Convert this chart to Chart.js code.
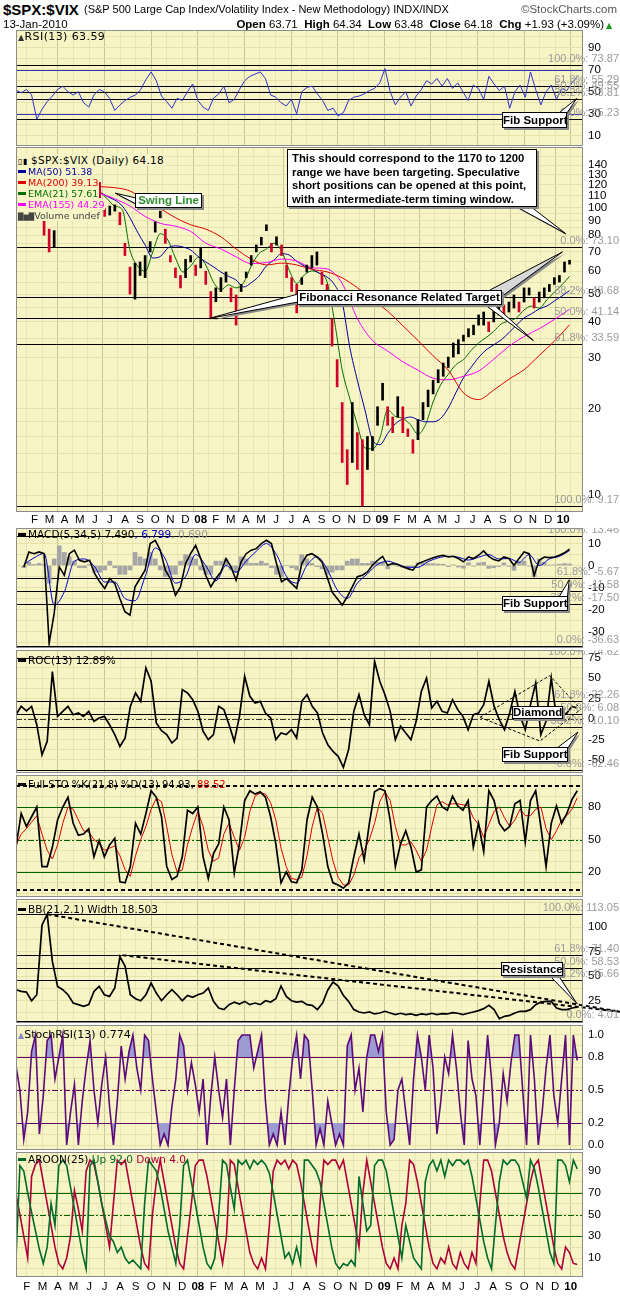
<!DOCTYPE html>
<html>
<head>
<meta charset="utf-8">
<script src="https://cdn.jsdelivr.net/npm/chart.js@4.4.1/dist/chart.umd.min.js"></script>
<style>
  body { margin:0; width:620px; height:1297px; background:#fff; position:relative; overflow:hidden; font-family:"Liberation Sans", Arial, sans-serif; }
  canvas { position:absolute; left:0; z-index:1; }
  .t { position:absolute; white-space:nowrap; color:#000; z-index:2; }
  .lg { position:absolute; white-space:nowrap; font:10.5px "DejaVu Sans", Verdana, sans-serif; line-height:11px; z-index:2; }
  .mrow { font-size:9.5px; }
  .row { background:#f7f5c6; padding-right:1px; }
  .sw { display:inline-block; width:8px; height:3px; vertical-align:middle; margin:0 2px 2px 0; }
  .box { position:absolute; z-index:3; background:#fff; border:1px solid #000; box-shadow:2px 2px 0 #8a8a8a; font:bold 11.5px "Liberation Sans", Arial, sans-serif; white-space:nowrap; text-align:center; box-sizing:border-box; }
</style>
</head>
<body>

<div class="t" style="left:3px;top:1px;font:bold 15px 'Liberation Sans'">$SPX:$VIX</div>
<div class="t" style="left:84px;top:3px;font:11px 'Liberation Sans'">(S&amp;P 500 Large Cap Index/Volatility Index - New Methodology) INDX/INDX</div>
<div class="t" style="right:3px;top:3px;font:11.5px 'Liberation Sans';color:#555">&copy;StockCharts.com</div>
<div class="t" style="left:3px;top:18px;font:11.5px 'Liberation Sans'">13-Jan-2010</div>
<div class="t" style="right:16px;top:18px;font:11.5px 'Liberation Sans'"><b>Open</b> 63.71 &nbsp;<b>High</b> 64.34 &nbsp;<b>Low</b> 63.48 &nbsp;<b>Close</b> 64.18 &nbsp;<b>Chg</b> +1.93 (+3.09%)</div>
<div class="t" style="left:606px;top:21px;font:8px 'DejaVu Sans';color:#1a9a1a">&#9650;</div>

<!-- panel legends -->
<div class="lg" style="left:18px;top:31px;font-size:11px;letter-spacing:0.4px"><span style="font-size:8px;color:#333">&#9650;</span>RSI(13) 63.59</div>

<div class="lg" style="left:18px;top:155px;letter-spacing:0.3px"><span class="row"><span style="font-size:8px">&#9647;&#9646;</span> $SPX:$VIX (Daily) 64.18</span></div>
<div class="lg mrow" style="left:18px;top:166px;color:#0000a0"><span class="row"><span class="sw" style="background:#0000a0"></span>MA(50) 51.38</span></div>
<div class="lg mrow" style="left:18px;top:177px;color:#e00000"><span class="row"><span class="sw" style="background:#e00000"></span>MA(200) 39.13</span></div>
<div class="lg mrow" style="left:18px;top:188px;color:#006e00"><span class="row"><span class="sw" style="background:#006e00"></span>EMA(21) 57.61</span></div>
<div class="lg mrow" style="left:18px;top:199px;color:#ff00ff"><span class="row"><span class="sw" style="background:#ff00ff"></span>EMA(155) 44.29</span></div>
<div class="lg mrow" style="left:18px;top:210px;color:#444"><span class="row"><span style="font-size:7px">&#9608;&#9606;&#9608;</span>Volume undef</span></div>

<div class="lg" style="left:18px;top:529px"><span class="sw" style="background:#000"></span>MACD(5,34,5) 7.490<span style="color:#0000cc">, 6.799</span><span style="color:#999">, 0.690</span></div>
<div class="lg" style="left:18px;top:655px"><span class="sw" style="background:#000"></span>ROC(13) 12.89%</div>
<div class="lg" style="left:18px;top:779px;font-size:10px"><span class="sw" style="background:#000"></span>Full STO %K(21,8) %D(13) 94.93, <span style="color:#e00000">88.52</span></div>
<div class="lg" style="left:18px;top:904px"><span class="sw" style="background:#000"></span>BB(21,2.1) Width 18.503</div>
<div class="lg" style="left:18px;top:1029px;font-size:11px"><span style="font-size:8px;color:#8888cc">&#9650;</span>StochRSI(13) 0.774</div>
<div class="lg" style="left:18px;top:1154px"><span class="sw" style="background:#006b2b"></span>AROON(25) <span style="color:#006b2b">Up 92.0</span> <span style="color:#b0003a">Down 4.0</span></div>

<!-- callouts -->
<div class="box" style="left:502px;top:112px;width:65px;height:16px;line-height:14px">Fib Support</div>
<div class="box" style="left:135px;top:193px;width:67px;height:15px;line-height:13px;color:#2e8b2e">Swing Line</div>
<div class="box" style="left:287px;top:149px;width:250px;height:58px;line-height:13.5px;text-align:left;padding:2px 0 0 4px;font-size:11.3px">This should correspond to the 1170 to 1200<br>range we have been targeting. Speculative<br>short positions can be opened at this point,<br>with an intermediate-term timing window.</div>
<div class="box" style="left:297px;top:290px;width:205px;height:15px;line-height:13px">Fibonacci Resonance Related Target</div>
<div class="box" style="left:502px;top:596px;width:66px;height:15px;line-height:13px">Fib Support</div>
<div class="box" style="left:512px;top:706px;width:51px;height:13px;line-height:11px">Diamond</div>
<div class="box" style="left:502px;top:747px;width:66px;height:15px;line-height:13px">Fib Support</div>
<div class="box" style="left:501px;top:962px;width:62px;height:14px;line-height:12px">Resistance</div>

<script>
// ---- time axis (months since Jan 2007) ----
const START = 0.30, END = 36.42;
const X_MIN = 0.30, X_MAX = 36.79;
const monthLabels = ['J','F','M','A','M','J','J','A','S','O','N','D',
  '08','F','M','A','M','J','J','A','S','O','N','D',
  '09','F','M','A','M','J','J','A','S','O','N','D','10'];
const monthTicks = monthLabels.map((_, i) => i).filter(i => i > 0);

// ---- RSI(13) ----
const rsiVals = [51.5,49,52,47,25,34,41,46,52,55,
  50,47,50,40,36,47,52,50,44,33,
  38,42,45,47,52,61,68,60,46,41,
  35,44,42,50,57,42,36,33,44,48,
  55,40,43,52,60,64,66,68,62,47,
  45,40,37,43,30,50,54,55,48,42,
  33,35,28,31,42,45,46,48,51,53,
  58,71,50,38,45,50,37,46,52,60,
  57,62,55,62,53,58,50,42,56,53,
  43,64,57,51,55,35,50,56,45,68,
  52,38,50,56,43,53,51,58,63.6];
const rsiFib = [73.87,55.29,49.55,43.81,25.23];
const fibPct = ['100.0%','61.8%','50.0%','38.2%','0.0%'];

// ---- $SPX:$VIX price bars (low / high) ----
const priceLow = [112,115,113,100,80,70,73,100,105,110,
  114,117,118,116,110,108,93,94,97,87,
  68,50,48,58,57,70,82,92,75,64.6,
  57,52.5,57,64.6,58,61.6,54,41,47,51,
  55,47,39,51,57,63,70,74,83,70,
  74,68,57,51,43,54,59.6,61.6,63,54,
  47,33,23.8,13,10.9,13,12.3,9.17,12.3,14.3,
  17.5,21.4,17.5,16.5,18.7,16.5,16,14,15.6,18.3,
  20.3,22.5,24.6,25.9,27.8,30.2,31,34.3,35.5,36.1,
  39,39,37,40,42.3,41.3,43.3,44.7,43.3,46.9,
  49.6,44.7,46.9,48.5,51,54,55,59.6,63.5];
const priceHigh = [125,128,126,118,90,84,83,112,118,122,
  126,130,132,128,124,122,99,101,102,96,
  75,62,64,64.6,68,76,89,97,84,68,
  61.6,58,66,68,63,72,60,51,52.5,57,
  59.6,52.5,49.6,54,59.6,68,74,78.7,87,75,
  79,74,63,57,54,57,63,68,70,59.6,
  54,41,29.6,21,14.4,21,16.5,15.6,16,16,
  20.3,24.5,20.3,18.7,22,20.3,17,15.6,18.3,21,
  23.2,25.1,27.3,28.8,30.2,33.8,34.7,36,37.9,39,
  42.3,43.3,40,44.7,45.8,45.8,46.9,49.6,46.9,52.5,
  52.5,48.5,50.8,52.5,54,57,58,64.6,65.5];
const ma50 = [128,130,131,129,124,119,116,114,114,115,113,
  109,106,101,92,82,74,66.7,67.5,72.2,73.5,
  72.8,71.1,67.5,64.6,62.2,59.6,57.6,55.9,52.9,54.7,
  57.6,62.6,65.6,69,68.3,65,62.6,61.1,59,57.3,
  53.8,46.9,32.7,25.1,19.8,15.6,15,16.4,17.7,18.4,
  18.7,18.3,18,18,18.5,20.1,22.7,25.6,27.8,30.1,
  32,33.3,34.7,36.7,39,41.3,42.7,44.4,45.4,47.3,49.2,51.4];
const ma200 = [120,121,121,120,119,118,117,114,106,99,92,87,84,79,71.7,66.1,63.1,64,63.1,
  60.9,59.7,56.9,52.6,47.9,43.6,38.8,34.5,30.5,27.2,22.7,21.5,23.2,25.3,27.3,30.6,34.3,39.1];
const ema21 = [125,128,130,118,100,104,114,120,121,117,113,
  107,101,98,71,62.5,60,70,81,77,66.7,
  59.6,62.5,67,63.1,55.1,51.7,53.8,52.5,54.7,62.5,
  69,71.7,75.1,70.6,60.6,54.4,58.2,60.1,59,55.1,
  40,27.3,21.7,17.6,14.6,14.5,15.9,19.8,18.8,18.5,
  17.6,16.3,17.6,21.1,24.2,26.3,28.4,29.6,31.8,33.8,
  35.3,37.1,39.4,40.3,41.3,44,45.4,44.7,47.7,50.8,53.8,57.6];
const ema155 = [124,122,120,118,115,112,107,101,93,88,86,82.5,75.1,71.7,67.3,63.8,64.3,66.1,65.1,
  61.7,61.1,54.4,41.1,34.5,31.7,29.1,27.2,25.5,25.2,25.9,27,29.7,32.9,35.6,37.9,40.8,44.3];
const priceFib = [73.10,48.68,41.14,33.59,9.17];
const priceFibPct = ['0.0%','38.2%','50.0%','61.8%','100.0%'];

// ---- MACD(5,34,5) ----
const macdLine = [-0.6,6.2,5.4,6.2,5.4,-35.4,-21.8,-0.6,-4.4,5.4,
  7.0,2.4,1.7,2.4,-3.6,-7.4,-10.4,-5.9,-8.2,-15.0,
  -21.0,-22.6,-9.7,-5.9,-2.1,10.0,11.5,7.0,-2.1,-5.9,
  -13.5,-9.7,0.9,5.4,9.2,3.2,-4.4,-9.7,-5.9,-2.9,
  3.2,-0.6,-6.7,1.7,5.4,7.0,7.7,10.0,11.5,10.0,
  0.9,-7.4,-5.9,-8.2,-10.4,0.9,4.7,5.4,3.9,1.7,
  -5.1,-12.0,-15.0,-18.0,-14.2,-9.7,-5.1,-4.4,-2.9,0.1,
  2.4,4.2,0.1,0.9,0.5,-0.6,-1.4,-2.1,0.9,1.7,
  2.7,3.6,4.2,4.7,3.9,4.2,3.2,1.7,3.9,3.2,
  4.7,6.7,4.2,2.7,2.1,3.9,3.2,0.1,3.2,6.2,
  5.4,-4.4,2.4,3.9,3.6,3.9,4.7,5.8,7.5];
const macdSignal = [0.5,3.5,5.5,-18,-12,2,3,-0.5,-7.5,-7.5,-15,-16,-5,8,3,-8,-5,5,0,-7,
  0,-3,2,6.5,10,5,-5,-8,0,4,-1.5,-11,-15,-8,-3.8,0.5,2,0.6,-0.8,-0.8,
  1.8,3.5,4.2,3.8,2.5,3.8,5,3,3.2,1.5,5,0,3,4.2,6.8];
const macdHist = [-1,1.5,0.5,1,0.5,-8,3,9,6,4,
  2,-1,-1,0.5,-3,-3,-2,2,-1,-4,
  -4,-2,6,4,3,6,3,-2,-5,-4,
  -4,2,5,4,3,-2,-4,-4,2,2,
  3,-2,-3,4,3,1,1,2,1,-1,
  -4,-5,0,-1,-2,5,3,1,-0.5,-1.5,
  -4,-3,-2,-2,2,3,3,1,1,2,
  1.5,1.5,-1.5,0.5,-0.3,-0.8,-0.6,-0.7,1.2,1,
  0.9,0.9,0.7,0.6,-0.5,0.3,-0.7,-1.2,1.3,-0.3,
  1.2,1.5,-1.3,-1,-0.5,1.2,-0.4,-2.2,1.5,2,
  -0.3,-5,3,1.5,0.2,0.3,0.6,0.9,0.7];
const macdFib = [13.46,-5.67,-11.58,-17.50,-36.63];

// ---- ROC(13) ----
const rocVals = [5.2,15.4,10,15.4,-7,-44,-27.4,58,3.2,9.3,
  15.4,5.2,7.3,3.2,9.3,-2.9,1.2,3.2,-7,-19.2,
  -33.5,-23.3,15.4,31.8,21.6,62.4,46.1,-5,-14.3,-19.2,
  -29.4,-23.3,35.9,31.8,23.6,9.3,-15.1,-25.3,-19.2,15.4,
  11.4,-7,-27.4,3.2,52.2,27.7,19.5,21.6,7.3,1.2,
  -25.3,-17.2,-19.2,-13.1,-23.3,21.6,29.7,15.4,7.3,-17.2,
  -31.5,-39.6,-45.7,-59.2,-37.6,9.3,29.7,5.2,-7,70.5,
  46.1,29.7,9.3,-25.3,-9,-17.2,-25.3,-2.9,33.8,50.1,
  13.4,21.6,9.3,7.3,23.6,11.4,3.2,-13.1,5.2,7.3,
  17.5,46.1,15.4,-0.8,-13.1,7.3,33.8,3.2,-13.1,17.5,
  44,-19.2,-2.9,50.1,1.2,3.2,7.3,15.4,13.4];
const rocFib = [74.62,22.26,6.08,-10.10,-62.46];
const diamondT = [30.16,34.64,36.66,34.02,30.16];
const diamondV = [2,53,12,-27,2];

// ---- Full STO ----
const stoK = [43,74,62,71,80,25,25,43,68,80,
  89,65,54,55,60,34,49,34,45,51,
  11,10,25,65,55,74,95,89,71,25,
  13,16,34,77,74,80,34,14,37,46,
  80,68,19,46,86,95,92,94,89,71,
  46,10,20,11,10,22,68,89,80,55,
  25,10,8,5,10,34,55,31,65,94,
  97,95,68,25,46,58,43,20,22,80,
  86,90,80,77,90,81,77,86,43,65,
  39,95,86,65,58,62,83,86,48,86,
  95,62,25,65,81,65,74,87,95];
const stoD = [45,55,60,66,72,55,40,32,45,65,
  80,78,68,58,57,50,46,40,42,44,
  35,22,16,35,50,62,78,88,85,62,
  36,20,22,45,62,76,62,40,30,33,
  55,65,52,40,52,76,90,93,92,84,
  68,42,25,14,13,15,35,62,80,74,
  52,30,15,8,8,17,33,40,50,65,
  85,94,86,62,45,45,48,40,30,40,
  62,82,85,82,83,83,82,81,70,64,
  52,64,76,80,70,62,68,78,72,72,
  78,80,60,50,58,68,72,78,88.5];

// ---- BB(21,2.1) Width ----
const bbWidth = [36.2,34.5,33.8,25,31.1,102,113,65,39.6,36.2,
  31.1,22.6,21,19.3,21,34.5,39.6,31.1,29.4,37.9,
  70,60,31.1,27,25,31.1,43,32.8,25,31.1,
  36.2,31.1,25,30.4,28.4,31.1,32.8,37.9,24.3,17.6,
  15.9,21,23.6,21.6,24.3,21,22.6,21,25,23.6,
  27,40,29.4,25,23.6,24.3,21,20.3,15.9,22.6,
  36,44,40,30.4,24.3,15.9,13.5,12.5,13.5,11.5,
  12.5,14.2,12.5,10.8,12.2,10.8,11.5,10.1,11.5,10.8,
  12.2,10.8,11.8,11.5,12.8,12.2,10.8,12.2,13.5,14.9,
  16.9,20.3,15.9,6.7,9.1,10.1,12.5,14.2,14.2,15.9,
  21,23.6,24.3,24.3,17.6,15.9,15.9,17.6,18.5];
const bbFib = [113.05,71.40,58.53,45.66,4.01];
const trendAT = [2.33,39.17], trendAV = [113.05,13.8];
const trendBT = [7.16,39.17], trendBV = [71.4,13.8];

// ---- StochRSI(13) ----
const stochRsi = [0.72,0.5,0.05,0.3,0.85,1.0,0.1,0.45,0.95,1.0,
  0.6,0.8,1.0,0.0,0.3,0.55,0.0,0.4,0.7,0.95,
  0.5,0.2,0.55,0.8,0.35,0.0,0.4,0.9,0.6,0.85,
  1.0,0.7,0.5,1.0,0.95,0.6,0.3,0.0,0.1,0.0,
  0.35,0.6,1.0,0.9,0.5,0.75,0.55,0.3,0.6,0.0,
  0.45,0.8,0.5,0.25,0.6,0.0,0.5,0.95,1.0,1.0,
  1.0,0.7,0.85,1.0,0.4,0.0,0.1,0.0,0.3,0.0,
  0.45,0.8,1.0,0.6,1.0,0.95,0.5,0.0,0.15,0.0,
  0.4,0.2,0.0,0.1,0.0,0.9,1.0,0.5,0.7,0.3,
  0.8,1.0,1.0,0.85,1.0,0.3,0.0,0.05,0.5,0.6,
  0.3,0.0,0.6,1.0,0.8,0.5,1.0,0.7,0.1,0.4,
  0.8,0.65,1.0,0.7,0.3,0.0,0.95,0.6,0.45,0.0,
  0.5,1.0,0.6,0.0,0.2,0.65,0.4,0.75,1.0,1.0,
  0.5,0.0,1.0,0.6,0.0,0.3,0.7,1.0,0.45,0.2,
  0.6,1.0,0.0,1.0,0.77];

// ---- AROON(25) ----
const aroonUp = [10,95,90,70,52,35,18,5,20,60,
  40,95,100,95,75,55,35,15,0,95,
  100,80,60,45,30,25,15,20,10,5,
  8,4,0,60,100,95,90,75,55,35,
  20,5,40,95,100,80,60,40,20,5,
  0,10,50,100,96,75,55,100,96,100,
  92,100,96,100,96,88,70,50,30,10,
  15,5,20,5,100,100,95,90,80,60,
  40,20,5,0,5,3,8,3,85,60,
  35,40,95,100,100,90,70,50,30,10,
  40,25,10,5,0,80,95,100,90,100,
  85,100,95,100,100,96,100,85,65,45,
  25,10,0,40,80,100,96,100,100,95,
  80,65,100,92,75,55,35,15,5,100,
  100,95,80,100,92];
const aroonDown = [68,50,30,10,85,96,100,80,60,40,
  20,5,0,10,30,72,55,35,90,100,
  96,80,60,40,20,60,100,96,100,80,
  60,40,20,5,0,50,80,100,80,60,
  40,20,5,0,30,60,95,100,100,85,
  65,45,25,5,30,100,96,75,55,35,
  15,5,0,10,0,40,90,100,96,100,
  92,100,96,80,60,40,20,5,60,100,
  96,100,100,92,100,80,60,40,20,70,
  100,80,60,40,20,5,0,10,0,40,
  60,100,96,80,60,40,20,5,0,10,
  5,20,5,0,15,5,0,15,5,60,
  100,100,90,70,50,30,15,5,0,20,
  40,60,80,95,100,80,60,40,20,5,
  0,20,15,5,4];

// ---- styling ----
const BG = '#f7f5c6', GRID = '#e6e2a9', VM = '#e9e6b6', VQ = '#c6c993';

function xAt(i, n) { return START + i * (END - START) / (n - 1); }
function pts(arr) { return arr.map((v, i) => ({ x: xAt(i, arr.length), y: v })); }
function pairs(ts, vs) { return ts.map((t, i) => ({ x: t, y: vs[i] })); }
function lineDs(arr, color, w, extra) {
  return Object.assign({ data: pts(arr), borderColor: color, borderWidth: w, pointRadius: 0, fill: false }, extra || {});
}
function fibLines(vals) { return vals.map(v => ({ v: v, c: '#000', w: 1 })); }

function decoPlugin(p) {
  return {
    id: 'deco',
    beforeDraw(c) {
      const ctx = c.ctx, a = c.chartArea;
      ctx.save();
      ctx.fillStyle = '#fff'; ctx.fillRect(0, 0, c.width, c.height);
      ctx.fillStyle = BG; ctx.fillRect(a.left, a.top, a.right - a.left, a.bottom - a.top);
      ctx.restore();
    },
    beforeDatasetsDraw(c) {
      const ctx = c.ctx, a = c.chartArea, ys = c.scales.y;
      ctx.save();
      (p.lines || []).forEach(l => {
        const y = Math.round(ys.getPixelForValue(l.v)) + ((l.w || 1) % 2 ? 0.5 : 0);
        ctx.strokeStyle = l.c; ctx.lineWidth = l.w || 1; ctx.setLineDash(l.d || []);
        ctx.beginPath(); ctx.moveTo(a.left, y); ctx.lineTo(a.right, y); ctx.stroke();
      });
      ctx.restore();
    },
    afterDraw(c) {
      const ctx = c.ctx, a = c.chartArea, ys = c.scales.y, xs = c.scales.x;
      ctx.save();
      ctx.strokeStyle = '#8c8c8c'; ctx.lineWidth = 1; ctx.setLineDash([]);
      ctx.strokeRect(a.left + 0.5, a.top + 0.5, a.right - a.left - 1, a.bottom - a.top - 1);
      if (p.fib) {
        ctx.font = '11px "Liberation Sans", Arial';
        ctx.fillStyle = '#9a9a9a'; ctx.textAlign = 'right'; ctx.textBaseline = 'bottom';
        p.fib.forEach((v, i) => {
          ctx.fillText(p.fibPct[i] + ': ' + v.toFixed(2), 619, ys.getPixelForValue(v) - 0.5);
        });
      }
      (p.tails || []).forEach(tl => {
        const tx = xs.getPixelForValue(tl.tip[0]), ty = ys.getPixelForValue(tl.tip[1]);
        const b = tl.base.map(q => [q[0], q[1] - p.top]);
        ctx.fillStyle = '#8a8a8a';
        ctx.beginPath(); ctx.moveTo(b[0][0] + 2, b[0][1] + 2); ctx.lineTo(tx + 2, ty + 2); ctx.lineTo(b[1][0] + 2, b[1][1] + 2); ctx.closePath(); ctx.fill();
        ctx.fillStyle = tl.fill || '#fff'; ctx.strokeStyle = '#000';
        ctx.beginPath(); ctx.moveTo(b[0][0], b[0][1]); ctx.lineTo(tx, ty); ctx.lineTo(b[1][0], b[1][1]); ctx.closePath(); ctx.fill(); ctx.stroke();
      });
      ctx.restore();
    }
  };
}

function build(p) {
  const cv = document.createElement('canvas');
  cv.width = 620; cv.height = p.h;
  cv.style.top = p.top + 'px';
  document.body.appendChild(cv);
  const xh = p.xh || 0;
  return new Chart(cv, {
    type: 'line',
    data: { datasets: p.datasets },
    options: {
      responsive: false, animation: false, devicePixelRatio: 1,
      layout: { padding: { left: 16, right: 0, top: 0, bottom: 0 }, autoPadding: false },
      plugins: { legend: { display: false }, tooltip: { enabled: false } },
      elements: { point: { radius: 0 }, line: { tension: 0 } },
      scales: {
        x: {
          type: 'linear', min: X_MIN, max: X_MAX,
          afterBuildTicks: s => { s.ticks = monthTicks.map(v => ({ value: v })); },
          grid: { color: c => (c.tick && c.tick.value % 3 === 0) ? VQ : VM, drawTicks: false },
          border: { display: false },
          ticks: {
            display: xh > 0, autoSkip: false, maxRotation: 0, padding: p.xpad || 1, color: '#000',
            font: c => ({ family: 'Liberation Sans', size: 11.5, weight: (c.tick && c.tick.value % 12 === 0) ? 'bold' : 'normal' }),
            callback: v => monthLabels[v]
          },
          afterFit: s => { s.height = xh; s.paddingLeft = 0; s.paddingRight = 0; }
        },
        y: {
          type: p.log ? 'logarithmic' : 'linear', position: 'right', min: p.min, max: p.max,
          afterBuildTicks: s => { s.ticks = p.grid.map(v => ({ value: v })); },
          grid: { color: GRID, drawTicks: false },
          border: { display: false },
          ticks: {
            autoSkip: false, padding: 5, color: '#000', font: { family: 'Liberation Sans', size: 11.5 },
            callback: v => p.labels.some(l => Math.abs(l - v) < 1e-9) ? (p.fmt ? p.fmt(v) : String(v)) : ''
          },
          afterFit: s => { s.width = 37; s.paddingTop = 0; s.paddingBottom = 0; }
        }
      }
    },
    plugins: [decoPlugin(p)]
  });
}

function steps(a, b, d) { const r = []; for (let v = a; v <= b + 1e-9; v += d) r.push(+v.toFixed(4)); return r; }

// RSI panel
build({
  top: 30, h: 116, min: 0.64, max: 106.1,
  grid: steps(10, 100, 10), labels: [10, 30, 50, 70, 90],
  lines: [{ v: 70, c: '#3535b0' }, { v: 30, c: '#3535b0' }, { v: 50, c: '#444', d: [6, 2, 2, 2] }].concat(fibLines(rsiFib)),
  fib: rsiFib, fibPct: fibPct,
  tails: [{ base: [[559, 113], [567, 113]], tip: [36.38, 43.81] }],
  datasets: [lineDs(rsiVals, '#3030cc', 1)]
});

// Price panel
const barColors = priceHigh.map((h, i) => (i > 0 && (priceLow[i] + h) < (priceLow[i - 1] + priceHigh[i - 1])) ? '#d0002a' : '#000');
build({
  top: 147, h: 379, xh: 14, xpad: 1, log: true, min: 8.75, max: 162,
  grid: [10,12,14,16,18,20,25,30,35,40,45,50,55,60,65,70,75,80,85,90,95,100,110,120,130,140,150],
  labels: [10,20,30,40,50,60,70,80,90,100,110,120,130,140],
  lines: fibLines(priceFib), fib: priceFib, fibPct: priceFibPct,
  tails: [
    { base: [[136, 198], [136, 204]], tip: [6.35, 112] },
    { base: [[515, 206], [530, 206]], tip: [36.17, 81] },
    { base: [[298, 294], [298, 302]], tip: [12.57, 41.14] },
    { base: [[490, 290], [501, 297]], tip: [35.95, 70], fill: '#d8d8d8' },
    { base: [[484, 304], [493, 304]], tip: [34.02, 34.5] }
  ],
  datasets: [
    lineDs(ma200, '#e00000', 1, { cubicInterpolationMode: 'monotone', order: 1 }),
    lineDs(ema155, '#ff00ff', 1, { cubicInterpolationMode: 'monotone', order: 1 }),
    lineDs(ma50, '#0000a0', 1, { cubicInterpolationMode: 'monotone', order: 1 }),
    lineDs(ema21, '#006e00', 1, { cubicInterpolationMode: 'monotone', order: 1 }),
    { type: 'bar', data: priceLow.map((lo, i) => ({ x: xAt(i, priceLow.length), y: [lo, priceHigh[i]] })),
      backgroundColor: barColors, barThickness: 2, order: 0 }
  ]
});

// MACD panel
build({
  top: 528, h: 120, min: -37.54, max: 17.1,
  grid: steps(-35, 15, 5), labels: [-30, -20, -10, 0, 10],
  lines: fibLines(macdFib), fib: macdFib, fibPct: fibPct,
  tails: [{ base: [[559, 597], [567, 601]], tip: [36.4, -6.5] }],
  datasets: [
    lineDs(macdLine, '#000', 1.6, { order: 0 }),
    lineDs(macdSignal, '#0000cc', 1, { order: 1, cubicInterpolationMode: 'monotone' }),
    { type: 'bar', data: pts(macdHist), backgroundColor: '#a6a6a6', barThickness: 4, order: 3 }
  ]
});

// ROC panel
build({
  top: 650, h: 123, min: -66.13, max: 84.41,
  grid: steps(-62.5, 75, 12.5), labels: [-50, -25, 0, 25, 50, 75],
  lines: [{ v: 0, c: '#333', d: [6, 2, 2, 2] }].concat(fibLines(rocFib)), fib: rocFib, fibPct: fibPct,
  tails: [{ base: [[557, 748], [566, 751]], tip: [36.47, -16] }],
  datasets: [
    lineDs(rocVals, '#000', 1.7),
    { data: pairs(diamondT, diamondV), borderColor: '#000', borderWidth: 1, borderDash: [3, 2], pointRadius: 0, clip: false }
  ]
});

// Full STO panel
build({
  top: 775, h: 122, min: -3.09, max: 109.56,
  grid: steps(0, 100, 10), labels: [20, 50, 80],
  lines: [{ v: 80, c: '#006400' }, { v: 20, c: '#006400' }, { v: 50, c: '#006400', d: [6, 2, 2, 2] },
          { v: 99.5, c: '#000', w: 2, d: [4, 3] }, { v: 3.6, c: '#000', w: 2, d: [4, 3] }],
  datasets: [lineDs(stoK, '#000', 1.7), lineDs(stoD, '#e00000', 1)]
});

// BB width panel
build({
  top: 899, h: 124, min: 2.28, max: 128.65,
  grid: steps(12.5, 125, 12.5), labels: [25, 50, 75, 100],
  lines: fibLines(bbFib), fib: bbFib, fibPct: fibPct,
  tails: [{ base: [[549, 975], [558, 975]], tip: [36.4, 22] }],
  datasets: [
    lineDs(bbWidth, '#000', 1.7),
    { data: pairs(trendAT, trendAV), borderColor: '#000', borderWidth: 2, borderDash: [4, 3], pointRadius: 0, clip: false },
    { data: pairs(trendBT, trendBV), borderColor: '#000', borderWidth: 2, borderDash: [4, 3], pointRadius: 0, clip: false }
  ]
});

// StochRSI panel
build({
  top: 1025, h: 125, min: -0.04545, max: 1.0909,
  grid: steps(0, 1, 0.1), labels: [0, 0.2, 0.5, 0.8, 1.0], fmt: v => v.toFixed(1),
  lines: [{ v: 0.8, c: '#660066' }, { v: 0.2, c: '#660066' }, { v: 0.5, c: '#660066', d: [6, 2, 2, 2] }],
  datasets: [
    lineDs(stochRsi, '#5c0a7a', 1.6, { fill: { target: { value: 0.8 }, above: '#9c9cd2', below: 'rgba(0,0,0,0)' } }),
    lineDs(stochRsi, 'rgba(0,0,0,0)', 0, { fill: { target: { value: 0.2 }, above: 'rgba(0,0,0,0)', below: '#9c9cd2' } })
  ]
});

// Aroon panel
build({
  top: 1152, h: 141, xh: 16, xpad: 3, min: -7.47, max: 107.47,
  grid: steps(0, 100, 10), labels: [10, 30, 50, 70, 90],
  lines: [{ v: 70, c: '#006400' }, { v: 30, c: '#006400' }, { v: 50, c: '#006400', d: [6, 2, 2, 2] }],
  datasets: [lineDs(aroonUp, '#006b2b', 1.6), lineDs(aroonDown, '#b0003a', 1.6)]
});
</script>
</body>
</html>
